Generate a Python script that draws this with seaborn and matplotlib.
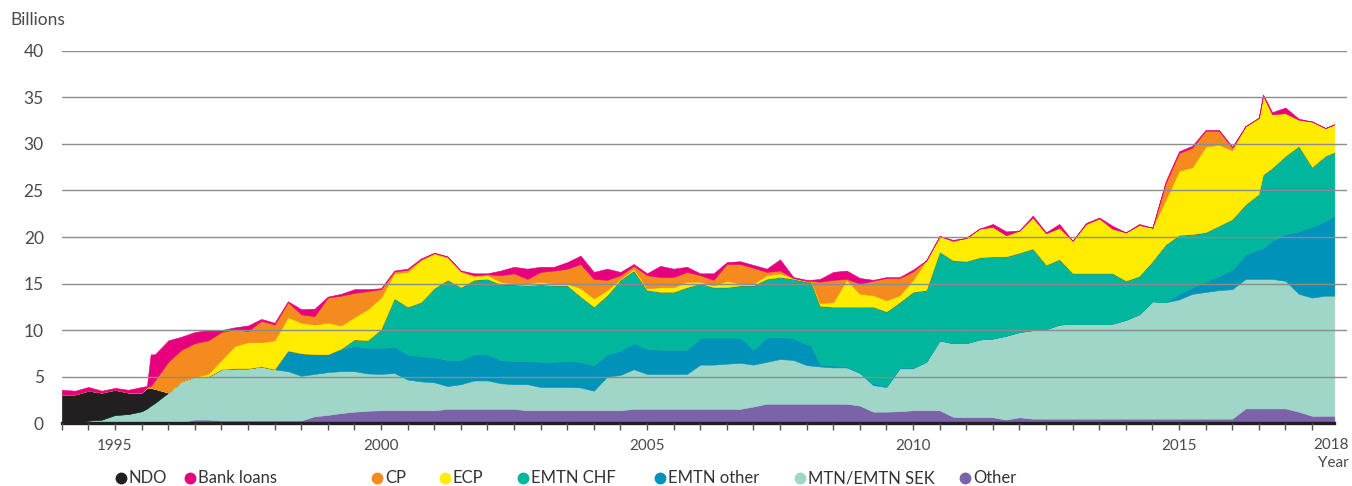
import numpy as np
import pandas as pd
import matplotlib
matplotlib.use("Agg")
import matplotlib.pyplot as plt
from matplotlib.lines import Line2D
import seaborn as sns

# ---------------- data (billions) ----------------
years = [1994.0, 1994.25, 1994.5, 1994.75,
         1995.0, 1995.25, 1995.5, 1995.6, 1995.67, 1995.75,
         1996.0, 1996.25, 1996.5, 1996.75,
         1997.0, 1997.25, 1997.5, 1997.75,
         1998.0, 1998.25, 1998.5, 1998.75,
         1999.0, 1999.25, 1999.5, 1999.75,
         2000.0, 2000.25, 2000.5, 2000.75,
         2001.0, 2001.25, 2001.5, 2001.75,
         2002.0, 2002.25, 2002.5, 2002.75,
         2003.0, 2003.25, 2003.5, 2003.75,
         2004.0, 2004.25, 2004.5, 2004.75,
         2005.0, 2005.25, 2005.5, 2005.75,
         2006.0, 2006.25, 2006.5, 2006.75,
         2007.0, 2007.25, 2007.5, 2007.75,
         2008.0, 2008.08, 2008.25, 2008.5, 2008.75,
         2009.0, 2009.25, 2009.5, 2009.75,
         2010.0, 2010.25, 2010.5, 2010.75,
         2011.0, 2011.25, 2011.5, 2011.75,
         2012.0, 2012.25, 2012.5, 2012.75,
         2013.0, 2013.25, 2013.5, 2013.75,
         2014.0, 2014.25, 2014.5, 2014.75,
         2015.0, 2015.25, 2015.5, 2015.75,
         2016.0, 2016.25, 2016.5, 2016.58, 2016.75,
         2017.0, 2017.25, 2017.5, 2017.75, 2017.92]

other = [0, 0, 0, 0,
         0, 0, 0, 0.1, 0.2, 0.2,
         0.2, 0.1, 0.4, 0.4,
         0.3, 0.3, 0.3, 0.3,
         0.3, 0.3, 0.3, 0.75,
         0.9, 1.1, 1.25, 1.35,
         1.4, 1.4, 1.4, 1.4,
         1.4, 1.55, 1.55, 1.55,
         1.55, 1.55, 1.55, 1.4,
         1.4, 1.4, 1.4, 1.4,
         1.4, 1.4, 1.4, 1.55,
         1.55, 1.55, 1.55, 1.55,
         1.55, 1.55, 1.55, 1.55,
         1.8, 2.1, 2.1, 2.1,
         2.1, 2.1, 2.1, 2.1, 2.1,
         1.9, 1.25, 1.25, 1.3,
         1.4, 1.4, 1.4, 0.7,
         0.65, 0.65, 0.65, 0.4,
         0.65, 0.5, 0.5, 0.5,
         0.5, 0.5, 0.5, 0.5,
         0.5, 0.5, 0.5, 0.5,
         0.5, 0.5, 0.5, 0.5,
         0.5, 1.6, 1.6, 1.6, 1.6,
         1.6, 1.25, 0.8, 0.8, 0.8]

mtn_sek = [0, 0, 0.3, 0.4,
           0.9, 1.0, 1.3, 1.5, 1.7, 2.0,
           3.1, 4.4, 4.6, 4.6,
           5.5, 5.6, 5.6, 5.8,
           5.5, 5.3, 4.8, 4.55,
           4.6, 4.5, 4.35, 4.0,
           3.9, 4.0, 3.3, 3.1,
           3.0, 2.45, 2.65, 3.05,
           3.05, 2.75, 2.65, 2.8,
           2.5, 2.5, 2.5, 2.45,
           2.1, 3.6, 3.8, 4.25,
           3.75, 3.75, 3.75, 3.75,
           4.75, 4.75, 4.85, 4.95,
           4.5, 4.5, 4.8, 4.7,
           4.15, 4.1, 4.0, 3.9, 3.9,
           3.5, 2.85, 2.65, 4.6,
           4.5, 5.2, 7.5, 7.9,
           7.95, 8.35, 8.45, 9.0,
           9.15, 9.5, 9.6, 10.1,
           10.2, 10.2, 10.2, 10.2,
           10.6, 11.2, 12.6, 12.5,
           12.8, 13.4, 13.6, 13.8,
           13.9, 13.9, 13.9, 13.9, 13.9,
           13.7, 12.65, 12.7, 12.9, 12.9]

emtn_other = [0, 0, 0, 0,
              0, 0, 0, 0, 0, 0,
              0, 0, 0, 0,
              0, 0, 0, 0,
              0, 2.2, 2.4, 2.1,
              1.9, 2.4, 2.7, 2.75,
              2.8, 2.8, 2.7, 2.7,
              2.7, 2.8, 2.6, 2.8,
              2.8, 2.5, 2.5, 2.5,
              2.7, 2.7, 2.8, 2.75,
              2.75, 2.4, 2.6, 2.8,
              2.7, 2.6, 2.6, 2.6,
              2.9, 2.9, 2.8, 2.7,
              1.6, 2.6, 2.4, 2.3,
              2.25, 2.2, 0.2, 0.2, 0.1,
              0.1, 0.2, 0.1, 0.1,
              0.1, 0, 0, 0,
              0, 0, 0, 0,
              0, 0, 0, 0,
              0, 0, 0, 0,
              0, 0, 0, 0,
              0.6, 0.7, 1.1, 1.5,
              2.1, 2.6, 3.2, 3.3, 4.1,
              5.0, 6.7, 7.6, 8.0, 8.55]

emtn_chf = [0, 0, 0, 0,
            0, 0, 0, 0, 0, 0,
            0, 0, 0, 0,
            0, 0, 0, 0,
            0, 0, 0, 0,
            0, 0, 0.7, 0.8,
            2.0, 5.2, 5.1, 5.8,
            7.4, 8.6, 7.8, 8.0,
            8.1, 8.1, 8.2, 8.1,
            8.3, 8.2, 8.1, 7.0,
            6.25, 6.35, 7.6, 7.8,
            6.3, 6.2, 6.2, 6.7,
            5.8, 5.4, 5.4, 5.6,
            6.9, 6.3, 6.4, 6.4,
            6.7, 6.8, 6.3, 6.3, 6.4,
            7.0, 8.2, 8.0, 7.0,
            8.1, 7.7, 9.5, 8.9,
            8.8, 8.8, 8.8, 8.5,
            8.5, 8.75, 6.9, 7.0,
            5.4, 5.4, 5.4, 5.4,
            4.2, 4.1, 4.3, 6.2,
            6.3, 5.7, 5.3, 5.4,
            5.4, 5.4, 5.9, 7.9, 7.8,
            8.4, 9.15, 6.4, 7.0, 6.85]

ndo = [3.1, 3.1, 3.2, 2.9,
       2.7, 2.3, 2.0, 2.2, 1.9, 1.5] + [0] * 91

ecp = [0, 0, 0, 0,
       0, 0, 0, 0, 0, 0,
       0, 0, 0, 0.3,
       1.0, 2.4, 2.8, 2.6,
       3.1, 3.6, 3.3, 3.2,
       3.4, 2.5, 2.4, 3.35,
       3.4, 2.7, 3.75, 4.5,
       3.7, 2.4, 1.7, 0.4,
       0.4, 0.3, 0.1, 0.2,
       0.3, 0.2, 0.2, 0.9,
       0.9, 0.55, 0.1, 0.2,
       0.2, 0.5, 0.5, 0.6,
       0.2, 0.2, 0.7, 0.2,
       0.2, 0.4, 0.4, 0.1,
       0.1, 0.1, 0.3, 0.5, 2.9,
       1.4, 1.25, 1.2, 0.75,
       1.3, 3.2, 1.7, 2.1,
       2.5, 3.1, 3.2, 2.3,
       2.4, 3.35, 3.4, 3.4,
       3.5, 5.3, 5.9, 4.8,
       5.2, 5.5, 3.6, 4.8,
       6.9, 7.2, 9.2, 8.7,
       7.4, 8.4, 8.2, 8.5, 5.8,
       4.6, 2.85, 4.9, 3.0, 3.0]

cp = [0, 0, 0, 0,
      0, 0, 0, 0.1, 0.2, 0.9,
      3.3, 3.4, 3.6, 3.6,
      3.0, 1.8, 1.2, 2.3,
      1.7, 1.6, 0.9, 0.9,
      2.7, 3.2, 2.6, 1.95,
      0.9, 0.2, 0.25, 0.1,
      0.1, 0.1, 0.05, 0.1,
      0.1, 0.7, 1.1, 0.5,
      1.05, 1.4, 1.6, 2.6,
      2.1, 1.1, 0.4, 0.3,
      1.4, 1.1, 1.1, 1.05,
      0.7, 0.6, 1.8, 2.1,
      1.7, 0.35, 0.3, 0,
      0, 0, 2.3, 2.4, 0.1,
      1.1, 1.55, 2.4, 1.85,
      0.9, 0, 0, 0,
      0, 0, 0, 0,
      0, 0, 0, 0,
      0, 0, 0, 0,
      0, 0, 0, 1.8,
      1.9, 2.1, 1.7, 1.5,
      0.3, 0, 0, 0, 0,
      0, 0, 0, 0, 0]

bank_loans = [0.5, 0.4, 0.4, 0.2,
              0.2, 0.3, 0.6, 0.1, 3.4, 2.8,
              2.3, 1.4, 1.2, 1.1,
              0.2, 0.2, 0.6, 0.2,
              0.2, 0.1, 0.55, 0.8,
              0.1, 0.2, 0.4, 0.2,
              0.1, 0.1, 0.1, 0.1,
              0, 0, 0.05, 0.2,
              0.1, 0.5, 0.7, 1.1,
              0.55, 0.4, 0.7, 0.9,
              0.75, 1.2, 0.35, 0.2,
              0.2, 1.2, 0.9, 0.55,
              0.2, 0.7, 0.2, 0.3,
              0.3, 0.35, 1.2, 0.1,
              0.1, 0.1, 0.3, 0.85, 0.9,
              0.6, 0.1, 0.1, 0.1,
              0.2, 0, 0, 0.1,
              0, 0, 0.3, 0.4,
              0, 0.2, 0.1, 0.4,
              0, 0.1, 0.1, 0.3,
              0, 0.1, 0, 0.2,
              0.2, 0.2, 0.1, 0.1,
              0.1, 0, 0, 0.1, 0.2,
              0.6, 0.1, 0, 0, 0]

legend_order = ["NDO", "Bank loans", "CP", "ECP", "EMTN CHF",
                "EMTN other", "MTN/EMTN SEK", "Other"]
stack_order = ["Other", "MTN/EMTN SEK", "EMTN other", "EMTN CHF",
               "NDO", "ECP", "CP", "Bank loans"]

df = pd.DataFrame({
    "Other": other, "MTN/EMTN SEK": mtn_sek, "EMTN other": emtn_other,
    "EMTN CHF": emtn_chf, "NDO": ndo, "ECP": ecp, "CP": cp,
    "Bank loans": bank_loans,
}, index=years)

palette = dict(zip(legend_order, sns.color_palette(
    ["#231f20", "#e6007e", "#f58b1f", "#ffec00", "#00b69c",
     "#0092b9", "#a0d6c8", "#7b62a9"])))

# ---------------- figure ----------------
sns.set_theme(style="white")
plt.rcParams["font.family"] = ["Lato", "DejaVu Sans"]
TXT = "#4a4a4a"

W, H = 1352, 486
fig = plt.figure(figsize=(W / 100, H / 100), dpi=100)
x0, x1 = 61.8, 1346.6
y0, y40 = 423.3, 50.7
ax = fig.add_axes([x0 / W, 1 - y0 / H, (x1 - x0) / W, (y0 - y40) / H])

ax.stackplot(df.index.values, [df[c].values for c in stack_order],
             colors=[palette[c] for c in stack_order],
             linewidth=0.4, edgecolor="face")

ax.set_xlim(1994, 2018.15)
ax.set_ylim(0, 40)
ax.set_yticks(range(0, 45, 5))
ax.yaxis.grid(True, color="#8c8c8c", linewidth=1.0)
ax.xaxis.grid(False)
ax.set_axisbelow(False)
ax.yaxis.get_gridlines()[0].set_visible(False)

sns.despine(ax=ax, left=True, top=True, right=True)
ax.spines["bottom"].set_color("#231f20")
ax.spines["bottom"].set_linewidth(2.4)
ax.spines["bottom"].set_bounds(1994, df.index.values[-1])

xt = np.arange(1994, 2018, 0.5)
ax.set_xticks(xt)
ax.set_xticklabels([str(int(t)) if (t % 5 == 0 and t == int(t)) else "" for t in xt])
ax.tick_params(axis="x", length=5, width=1, color="#555555", direction="out",
               labelsize=11, labelcolor=TXT, pad=6, bottom=True)
ax.tick_params(axis="y", length=0, pad=13, labelsize=12.5, labelcolor=TXT)

fig.text(1331 / W, 1 - 445 / H, "2018", ha="center", va="center",
         fontsize=11, color=TXT)
fig.text(1333 / W, 1 - 463 / H, "Year", ha="center", va="center",
         fontsize=11, color=TXT)
fig.text(10 / W, 1 - 20 / H, "Billions", ha="left", va="center",
         fontsize=12.5, color=TXT)

# legend
leg_pos = {"NDO": 121, "Bank loans": 190, "CP": 377, "ECP": 445,
           "EMTN CHF": 523, "EMTN other": 660, "MTN/EMTN SEK": 800, "Other": 965}
ly = 1 - 478 / H
for lab in legend_order:
    mx = leg_pos[lab]
    fig.add_artist(Line2D([mx / W], [ly], marker="o", markersize=7.5,
                          linestyle="none", color=palette[lab],
                          transform=fig.transFigure))
    fig.text((mx + 8) / W, ly, lab, ha="left", va="center",
             fontsize=12, color="#333333")

fig.savefig("out.png", dpi=100)
